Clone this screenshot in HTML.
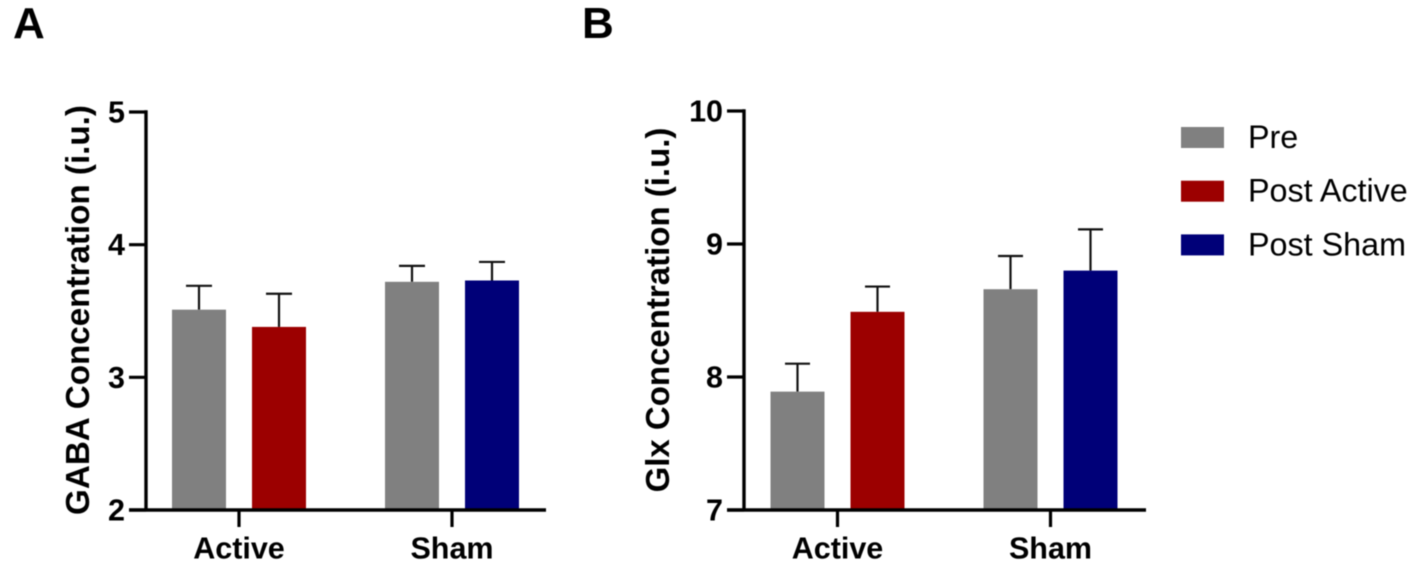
<!DOCTYPE html>
<html lang="en">
<head>
<meta charset="utf-8">
<title>GABA and Glx Concentration</title>
<style>
html,body{margin:0;padding:0;background:#fff;width:1418px;height:566px;overflow:hidden}
svg{display:block;filter:blur(0.55px)}
text{font-family:"Liberation Sans",Arial,sans-serif;fill:#000}
</style>
</head>
<body>
<svg id="figure" width="1418" height="566" viewBox="0 0 1418 566" xmlns="http://www.w3.org/2000/svg"></svg>
<script>
const groups = ['Active', 'Sham'];
const seriesNames = ['Pre', 'Post Active', 'Post Sham'];
const gabaMeans = [3.51, 3.38, 3.72, 3.73];
const gabaErrorTops = [3.69, 3.63, 3.84, 3.87];
const glxMeans = [7.89, 8.49, 8.66, 8.80];
const glxErrorTops = [8.10, 8.68, 8.91, 9.11];
const gabaTicks = [2, 3, 4, 5];
const glxTicks = [7, 8, 9, 10];
const barSeries = [0, 1, 0, 2];
const barGroups = [0, 0, 1, 1];

const colors = ['#808080', '#9c0000', '#000078'];
const NS = 'http://www.w3.org/2000/svg';
const svg = document.getElementById('figure');

function make(tag, attrs, parent, text) {
  const el = document.createElementNS(NS, tag);
  for (const k in attrs) el.setAttribute(k, attrs[k]);
  if (text !== undefined) el.textContent = text;
  parent.appendChild(el);
  return el;
}

function drawPanel(cfg) {
  const panel = make('g', {}, svg);
  
  

  const minV = cfg.ticks[0];
  const maxV = cfg.ticks[cfg.ticks.length - 1];
  const yScale = v => cfg.yBottom + (v - minV) / (maxV - minV) * (cfg.yTop - cfg.yBottom);
  const xScale = i => cfg.groupCenters[barGroups[i]] + (i % 2 === 0 ? -1 : 1) * cfg.barOffset;

  cfg.means.forEach((m, i) => {
    const cx = xScale(i);
    const top = yScale(cfg.errorTops[i]);
    const y = yScale(m);
    const stem = make('line', {x1: cx, x2: cx, y1: top, y2: y, stroke: '#111', 'stroke-width': 2.2}, panel);
    
    
    const cap = make('line', {x1: cx - cfg.capHalf, x2: cx + cfg.capHalf, y1: top, y2: top, stroke: '#111', 'stroke-width': 2.2}, panel);
    
    
    const bar = make('rect', {x: cx - cfg.barWidth / 2, y: y, width: cfg.barWidth, height: cfg.yBottom - y, fill: colors[barSeries[i]]}, panel);
    
    
  });

  const yAxis = make('line', {x1: cfg.xAxis, x2: cfg.xAxis, y1: cfg.yTop - 1.7, y2: cfg.yBottom, stroke: '#000', 'stroke-width': 3.4}, panel);
  
  
  const xAxis = make('line', {x1: cfg.xAxis - 17, x2: cfg.xEnd, y1: cfg.yBottom, y2: cfg.yBottom, stroke: '#000', 'stroke-width': 3.4}, panel);
  
  

  cfg.ticks.forEach(t => {
    const y = yScale(t);
    const mark = make('line', {x1: cfg.xAxis - 17, x2: cfg.xAxis, y1: y, y2: y, stroke: '#000', 'stroke-width': 3.2}, panel);
    
    
    const label = make('text', {x: cfg.xAxis - 21, y: y + 10.5, 'text-anchor': 'end', 'font-size': 30.5, 'font-weight': 700}, panel, String(t));
    
    
  });

  groups.forEach((g, i) => {
    const cx = cfg.groupCenters[i];
    const mark = make('line', {x1: cx, x2: cx, y1: cfg.yBottom, y2: cfg.yBottom + 17, stroke: '#000', 'stroke-width': 3.2}, panel);
    
    
    const label = make('text', {x: cx, y: 558.3, 'text-anchor': 'middle', 'font-size': 30.5, 'font-weight': 700}, panel, g);
    
    
  });

  const title = make('text', {
    transform: 'translate(' + cfg.titleX + ',' + cfg.titleY + ') rotate(-90)',
    'text-anchor': 'middle', 'font-size': cfg.titleSize, 'font-weight': 700
  }, panel, cfg.title);
  
  

  const letter = make('text', {x: cfg.letterX, y: 38, 'font-size': 44, 'font-weight': 700}, panel, cfg.letter);
  
  
}

drawPanel({
  name: 'gaba-chart', letter: 'A', letterX: 13,
  title: 'GABA Concentration (i.u.)', titleX: 89, titleY: 310, titleSize: 33.2,
  means: gabaMeans, errorTops: gabaErrorTops, ticks: gabaTicks,
  xAxis: 146, xEnd: 546, yTop: 112, yBottom: 510,
  groupCenters: [239, 452], barOffset: 40, barWidth: 54, capHalf: 13
});

drawPanel({
  name: 'glx-chart', letter: 'B', letterX: 582,
  title: 'Glx Concentration (i.u.)', titleX: 669, titleY: 310, titleSize: 33,
  means: glxMeans, errorTops: glxErrorTops, ticks: glxTicks,
  xAxis: 744, xEnd: 1146, yTop: 111, yBottom: 510,
  groupCenters: [837.5, 1050.5], barOffset: 40, barWidth: 54, capHalf: 12.5
});

const legend = make('g', {}, svg);


seriesNames.forEach((s, i) => {
  const y = 127 + i * 53.7;
  const swatch = make('rect', {x: 1181, y: y, width: 43, height: 21, fill: colors[i]}, legend);
  
  
  const label = make('text', {x: 1248, y: y + 21, 'font-size': 32.3}, legend, s);
  
  
});
</script>
</body>
</html>
